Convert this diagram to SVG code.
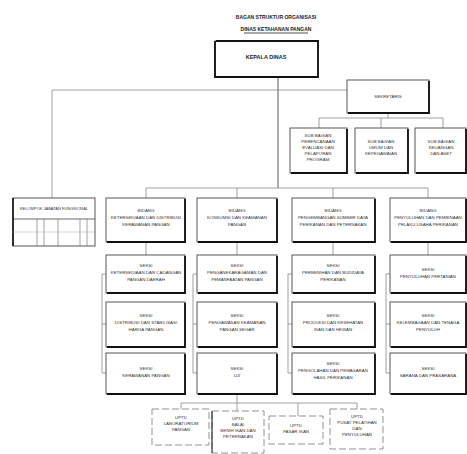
<svg xmlns="http://www.w3.org/2000/svg" width="467" height="454" viewBox="0 0 467 454">
<style>
.bg{fill:#fff}
.box{fill:#fff;stroke:#444;stroke-width:0.9}
.sh{fill:none;stroke:#111;stroke-width:1.8}
.ub{fill:#fff;stroke:#777;stroke-width:0.8;stroke-dasharray:7 3}
.ln{fill:none;stroke:#888;stroke-width:0.8}
.lnd{fill:none;stroke:#444;stroke-width:0.9}
text{font-family:"Liberation Sans",Arial,sans-serif;font-size:4.4px;fill:#333;text-anchor:middle}
.t{font-size:5px;font-weight:bold;fill:#222}
.k{font-size:5.5px;font-weight:bold;fill:#222}
</style>
<rect class="bg" x="0" y="0" width="467" height="454"/>
<g id="title">
<text class="t" x="276" y="19">BAGAN STRUKTUR ORGANISASI</text>
<text class="t" x="276" y="31">DINAS KETAHANAN PANGAN</text>
<line x1="244" y1="33" x2="308" y2="33" stroke="#222" stroke-width="0.8"/>
</g>
<g id="connectors">
<polyline class="lnd" points="278,78 278,188"/>
<polyline class="ln" points="52,198 52,90 347,90"/>
<polyline class="ln" points="388,113 388,118"/>
<polyline class="ln" points="319,128 319,118 443,118 443,128"/>
<polyline class="ln" points="381,118 381,128"/>
<polyline class="ln" points="146,198 146,188 428,188 428,198"/>
<line class="ln" x1="237" y1="188" x2="237" y2="198"/>
<line class="ln" x1="333" y1="188" x2="333" y2="198"/>
<line class="ln" x1="146" y1="242" x2="146" y2="255"/>
<line class="ln" x1="237" y1="242" x2="237" y2="255"/>
<line class="ln" x1="333" y1="242" x2="333" y2="255"/>
<line class="ln" x1="428" y1="242" x2="428" y2="255"/>
<polyline class="ln" points="106,274 102,274 102,373 106,373"/>
<line class="ln" x1="102" y1="324" x2="106" y2="324"/>
<polyline class="ln" points="197,274 193,274 193,373 197,373"/>
<line class="ln" x1="193" y1="324" x2="197" y2="324"/>
<polyline class="ln" points="292,274 288,274 288,373 292,373"/>
<line class="ln" x1="288" y1="324" x2="292" y2="324"/>
<polyline class="ln" points="390,274 386,274 386,373 390,373"/>
<line class="ln" x1="386" y1="324" x2="390" y2="324"/>
<line class="ln" x1="237" y1="394" x2="237" y2="403"/>
<polyline class="ln" points="181,409 181,403 357,403 357,409"/>
<line class="ln" x1="237" y1="403" x2="237" y2="411"/>
<line class="ln" x1="298" y1="403" x2="298" y2="416"/>
</g>
<g id="kepala">
<rect class="box" x="215" y="41" width="103" height="36"/>
<polyline class="sh" points="216,41 318,41 318,77 215,77 215,41"/>
<text class="k" x="266" y="59">KEPALA DINAS</text>
</g>
<g id="sekretaris">
<rect class="box" x="347" y="80" width="82" height="33"/>
<polyline class="sh" points="429,81 429,113 348,113"/>
<text x="388" y="98">SEKRETARIS</text>
</g>
<g id="subbag1">
<rect class="box" x="290" y="128" width="57" height="45"/>
<polyline class="sh" points="347,129 347,173 291,173"/>
<text x="318" y="137">SUB BAGIAN</text>
<text x="318" y="143">PERENCANAAN</text>
<text x="318" y="149">EVALUASI DAN</text>
<text x="318" y="155">PELAPORAN</text>
<text x="318" y="161">PROGRAM</text>
</g>
<g id="subbag2">
<rect class="box" x="355" y="128" width="53" height="45"/>
<polyline class="sh" points="408,129 408,173 356,173"/>
<text x="381" y="143">SUB BAGIAN</text>
<text x="381" y="149">UMUM DAN</text>
<text x="381" y="155">KEPEGAWAIAN</text>
</g>
<g id="subbag3">
<rect class="box" x="415" y="128" width="51" height="45"/>
<polyline class="sh" points="466,129 466,173 416,173"/>
<text x="441" y="143">SUB BAGIAN</text>
<text x="441" y="149">KEUANGAN</text>
<text x="441" y="155">DAN ASET</text>
</g>
<g id="jabfung">
<rect class="box" x="13" y="198" width="82" height="48"/>
<line x1="13" y1="219" x2="95" y2="219" stroke="#444" stroke-width="0.8"/>
<line x1="13" y1="198" x2="13" y2="246" stroke="#111" stroke-width="1.6"/>
<line x1="37" y1="219" x2="37" y2="246" stroke="#666" stroke-width="0.6"/>
<line x1="44" y1="219" x2="44" y2="246" stroke="#666" stroke-width="0.6"/>
<line x1="58" y1="219" x2="58" y2="246" stroke="#666" stroke-width="0.6"/>
<line x1="80" y1="219" x2="80" y2="246" stroke="#666" stroke-width="0.6"/>
<line x1="87" y1="219" x2="87" y2="246" stroke="#666" stroke-width="0.6"/>
<line x1="13" y1="232" x2="95" y2="232" stroke="#aaa" stroke-width="0.5"/>
<text x="54" y="210" style="font-size:4px">KELOMPOK JABATAN FUNGSIONAL</text>
</g>
<g id="bidangA">
<rect class="box" x="106" y="198" width="79" height="44"/>
<polyline class="sh" points="185,199 185,242 107,242"/>
<text x="146" y="212">BIDANG</text>
<text x="146" y="219">KETERSEDIAAN DAN DISTRIBUSI</text>
<text x="146" y="226">KERAWANAN PANGAN</text>
</g>
<g id="bidangB">
<rect class="box" x="197" y="198" width="80" height="44"/>
<polyline class="sh" points="277,199 277,242 198,242"/>
<text x="237" y="212">BIDANG</text>
<text x="237" y="219">KONSUMSI DAN KEAMANAN</text>
<text x="237" y="226">PANGAN</text>
</g>
<g id="bidangC">
<rect class="box" x="292" y="198" width="83" height="44"/>
<polyline class="sh" points="375,199 375,242 293,242"/>
<text x="333" y="212">BIDANG</text>
<text x="333" y="219">PENGEMBANGAN SUMBER DAYA</text>
<text x="333" y="226">PERIKANAN DAN PETERNAKAN</text>
</g>
<g id="bidangD">
<rect class="box" x="390" y="198" width="76" height="44"/>
<polyline class="sh" points="466,199 466,242 391,242"/>
<text x="428" y="212">BIDANG</text>
<text x="428" y="219">PENYULUHAN DAN PEMBINAAN</text>
<text x="428" y="226">PELAKU USAHA PERIKANAN</text>
</g>
<g id="seksiA1">
<rect class="box" x="106" y="255" width="79" height="38"/>
<polyline class="sh" points="185,256 185,293 107,293"/>
<text x="146" y="267">SEKSI</text>
<text x="146" y="274">KETERSEDIAAN DAN CADANGAN</text>
<text x="146" y="281">PANGAN DAERAH</text>
</g>
<g id="seksiA2">
<rect class="box" x="106" y="302" width="79" height="45"/>
<polyline class="sh" points="185,303 185,347 107,347"/>
<text x="146" y="317">SEKSI</text>
<text x="146" y="324">DISTRIBUSI DAN STABILISASI</text>
<text x="146" y="331">HARGA PANGAN</text>
</g>
<g id="seksiA3">
<rect class="box" x="106" y="353" width="79" height="41"/>
<polyline class="sh" points="185,354 185,394 107,394"/>
<text x="146" y="370">SEKSI</text>
<text x="146" y="377">KERAWANAN PANGAN</text>
</g>
<g id="seksiB1">
<rect class="box" x="197" y="255" width="80" height="38"/>
<polyline class="sh" points="277,256 277,293 198,293"/>
<text x="237" y="267">SEKSI</text>
<text x="237" y="274">PENGANEKARAGAMAN DAN</text>
<text x="237" y="281">PEMANFAATAN PANGAN</text>
</g>
<g id="seksiB2">
<rect class="box" x="197" y="302" width="80" height="45"/>
<polyline class="sh" points="277,303 277,347 198,347"/>
<text x="237" y="317">SEKSI</text>
<text x="237" y="324">PENGAWASAN KEAMANAN</text>
<text x="237" y="331">PANGAN SEGAR</text>
</g>
<g id="seksiB3">
<rect class="box" x="197" y="353" width="80" height="41"/>
<polyline class="sh" points="277,354 277,394 198,394"/>
<text x="237" y="370">SEKSI</text>
<text x="237" y="377">UJI</text>
</g>
<g id="seksiC1">
<rect class="box" x="292" y="255" width="83" height="38"/>
<polyline class="sh" points="375,256 375,293 293,293"/>
<text x="333" y="267">SEKSI</text>
<text x="333" y="274">PERBENIHAN DAN BUDIDAYA</text>
<text x="333" y="281">PERIKANAN</text>
</g>
<g id="seksiC2">
<rect class="box" x="292" y="302" width="83" height="45"/>
<polyline class="sh" points="375,303 375,347 293,347"/>
<text x="333" y="317">SEKSI</text>
<text x="333" y="324">PRODUKSI DAN KESEHATAN</text>
<text x="333" y="331">IKAN DAN HEWAN</text>
</g>
<g id="seksiC3">
<rect class="box" x="292" y="353" width="83" height="41"/>
<polyline class="sh" points="375,354 375,394 293,394"/>
<text x="333" y="365">SEKSI</text>
<text x="333" y="372">PENGOLAHAN DAN PEMASARAN</text>
<text x="333" y="379">HASIL PERIKANAN</text>
</g>
<g id="seksiD1">
<rect class="box" x="390" y="255" width="76" height="38"/>
<polyline class="sh" points="466,256 466,293 391,293"/>
<text x="428" y="271">SEKSI</text>
<text x="428" y="278">PENYULUHAN PERTANIAN</text>
</g>
<g id="seksiD2">
<rect class="box" x="390" y="302" width="76" height="45"/>
<polyline class="sh" points="466,303 466,347 391,347"/>
<text x="428" y="317">SEKSI</text>
<text x="428" y="324">KELEMBAGAAN DAN TENAGA</text>
<text x="428" y="331">PENYULUH</text>
</g>
<g id="seksiD3">
<rect class="box" x="390" y="353" width="76" height="41"/>
<polyline class="sh" points="466,354 466,394 391,394"/>
<text x="428" y="370">SEKSI</text>
<text x="428" y="377">SARANA DAN PRASARANA</text>
</g>
<g id="uptd1">
<rect class="ub" x="152" y="409" width="57" height="36"/>
<text x="181" y="419">UPTD</text>
<text x="181" y="425">LABORATORIUM</text>
<text x="181" y="431">PANGAN</text>
</g>
<g id="uptd2">
<rect class="ub" x="212" y="411" width="52" height="42"/>
<line x1="212" y1="411" x2="212" y2="453" stroke="#333" stroke-width="1.2"/>
<text x="238" y="420">UPTD</text>
<text x="238" y="426">BALAI</text>
<text x="238" y="432">BENIH IKAN DAN</text>
<text x="238" y="438">PETERNAKAN</text>
</g>
<g id="uptd3">
<rect class="ub" x="269" y="416" width="54" height="28"/>
<text x="296" y="427">UPTD</text>
<text x="296" y="433">PASAR IKAN</text>
</g>
<g id="uptd4">
<rect class="ub" x="330" y="409" width="53" height="40"/>
<text x="357" y="418">UPTD</text>
<text x="357" y="424">PUSAT PELATIHAN</text>
<text x="357" y="430">DAN</text>
<text x="357" y="436">PENYULUHAN</text>
</g>
</svg>
